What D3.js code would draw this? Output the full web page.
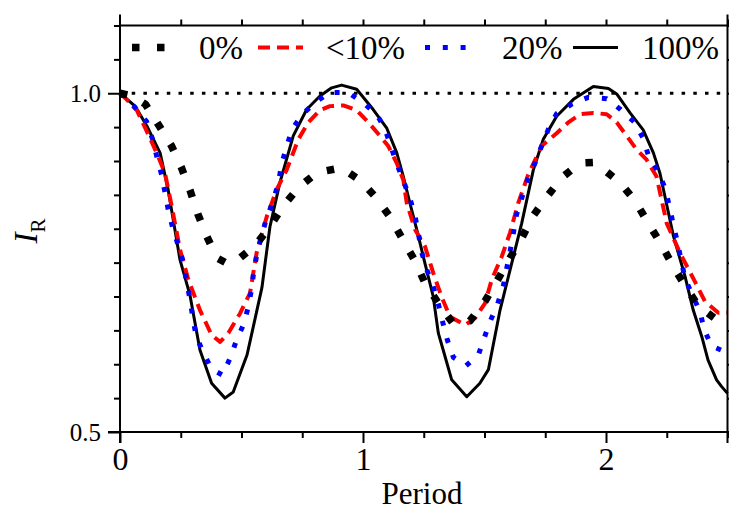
<!DOCTYPE html>
<html>
<head>
<meta charset="utf-8">
<script src="https://cdn.jsdelivr.net/npm/d3@7"></script>
<style>
    body { margin: 0; background: #fff; }
    svg text { font-family: "Liberation Serif", "DejaVu Serif", serif !important; fill: #000; }
</style>
</head>
<body>
<div id="chart"></div>
<script>
// values, [period, I_R]
var pct0 = [[0, 1.0], [0.05, 0.996], [0.104, 0.984], [0.159, 0.953], [0.211, 0.923], [0.252, 0.891], [0.288, 0.857],
    [0.32, 0.822], [0.357, 0.789], [0.398, 0.757], [0.44, 0.749], [0.477, 0.752], [0.556, 0.775], [0.617, 0.803],
    [0.672, 0.834], [0.738, 0.862], [0.812, 0.883], [0.912, 0.890], [0.99, 0.871], [1.056, 0.845], [1.114, 0.816],
    [1.162, 0.785], [1.21, 0.755], [1.255, 0.720], [1.31, 0.690], [1.369, 0.661], [1.44, 0.664], [1.502, 0.693],
    [1.553, 0.724], [1.602, 0.755], [1.653, 0.786], [1.698, 0.818], [1.756, 0.847], [1.82, 0.876], [1.893, 0.897],
    [1.95, 0.898], [1.982, 0.890], [2.058, 0.868], [2.122, 0.840], [2.174, 0.808], [2.226, 0.778], [2.274, 0.746],
    [2.325, 0.716], [2.38, 0.686], [2.462, 0.664], [2.5, 0.655]]

var pct10 = [[0, 1.0], [0.027, 0.991], [0.069, 0.975], [0.11, 0.944], [0.151, 0.912], [0.185, 0.882], [0.213, 0.833],
    [0.247, 0.769], [0.281, 0.725], [0.329, 0.680], [0.377, 0.643], [0.412, 0.633], [0.446, 0.646], [0.494, 0.675],
    [0.535, 0.705], [0.562, 0.764], [0.604, 0.818], [0.645, 0.858], [0.686, 0.887], [0.734, 0.932], [0.775, 0.957],
    [0.823, 0.975], [0.864, 0.981], [0.919, 0.982], [0.974, 0.975], [1.022, 0.957], [1.07, 0.937], [1.104, 0.922],
    [1.139, 0.897], [1.166, 0.872], [1.18, 0.838], [1.214, 0.799], [1.255, 0.774], [1.289, 0.735], [1.323, 0.700],
    [1.358, 0.670], [1.42, 0.658], [1.461, 0.668], [1.502, 0.690], [1.53, 0.725], [1.571, 0.759], [1.605, 0.794],
    [1.639, 0.838], [1.68, 0.880], [1.735, 0.922], [1.797, 0.941], [1.845, 0.957], [1.893, 0.969], [1.948, 0.971],
    [2.003, 0.969], [2.044, 0.957], [2.085, 0.937], [2.126, 0.917], [2.167, 0.902], [2.208, 0.877], [2.25, 0.808],
    [2.305, 0.764], [2.366, 0.722], [2.407, 0.693], [2.462, 0.676], [2.5, 0.676]]

var pct20 = [[0, 1.0], [0.014, 0.996], [0.062, 0.979], [0.11, 0.958], [0.134, 0.932], [0.151, 0.907], [0.171, 0.880],
    [0.185, 0.854], [0.199, 0.827], [0.217, 0.801], [0.240, 0.775], [0.263, 0.748], [0.274, 0.722], [0.288, 0.696],
    [0.299, 0.670], [0.313, 0.642], [0.343, 0.617], [0.377, 0.593], [0.422, 0.584], [0.453, 0.609], [0.477, 0.633],
    [0.510, 0.660], [0.528, 0.685], [0.542, 0.712], [0.551, 0.739], [0.565, 0.765], [0.583, 0.791], [0.604, 0.816],
    [0.631, 0.842], [0.652, 0.868], [0.665, 0.895], [0.686, 0.922], [0.71, 0.948], [0.751, 0.969], [0.802, 0.986],
    [0.861, 1.001], [0.939, 1.001], [1.001, 0.986], [1.056, 0.969], [1.091, 0.947], [1.114, 0.922], [1.139, 0.896],
    [1.166, 0.871], [1.193, 0.845], [1.214, 0.819], [1.228, 0.793], [1.241, 0.766], [1.262, 0.740], [1.289, 0.715],
    [1.31, 0.689], [1.328, 0.662], [1.347, 0.636], [1.372, 0.610], [1.424, 0.598], [1.475, 0.614], [1.498, 0.638],
    [1.523, 0.663], [1.554, 0.689], [1.577, 0.715], [1.591, 0.741], [1.605, 0.766], [1.619, 0.794], [1.632, 0.821],
    [1.653, 0.845], [1.678, 0.873], [1.708, 0.897], [1.735, 0.922], [1.763, 0.947], [1.797, 0.970], [1.859, 0.984],
    [1.927, 0.994], [2.003, 0.992], [2.06, 0.976], [2.115, 0.958], [2.151, 0.935], [2.174, 0.909], [2.215, 0.884],
    [2.243, 0.860], [2.261, 0.833], [2.277, 0.806], [2.294, 0.780], [2.309, 0.754], [2.325, 0.727], [2.355, 0.702],
    [2.387, 0.678], [2.403, 0.652], [2.434, 0.627], [2.5, 0.617]]

var pct100 = [[0, 1.0], [0.062, 0.981], [0.11, 0.952], [0.165, 0.912], [0.198, 0.858], [0.247, 0.754], [0.288, 0.702],
    [0.329, 0.621], [0.377, 0.572], [0.432, 0.550], [0.466, 0.559], [0.523, 0.614], [0.584, 0.713], [0.617, 0.803],
    [0.658, 0.868], [0.713, 0.937], [0.768, 0.976], [0.823, 0.996], [0.871, 1.008], [0.912, 1.012], [0.974, 1.006],
    [1.042, 0.976], [1.097, 0.949], [1.139, 0.912], [1.166, 0.877], [1.193, 0.838], [1.221, 0.799], [1.255, 0.749],
    [1.289, 0.700], [1.310, 0.646], [1.330, 0.621], [1.365, 0.577], [1.427, 0.552], [1.481, 0.572], [1.516, 0.592],
    [1.564, 0.680], [1.605, 0.739], [1.653, 0.808], [1.701, 0.887], [1.742, 0.932], [1.797, 0.966], [1.866, 0.991],
    [1.948, 1.010], [2.01, 1.007], [2.044, 0.999], [2.099, 0.971], [2.153, 0.946], [2.195, 0.912], [2.222, 0.882],
    [2.277, 0.790], [2.325, 0.730], [2.359, 0.680], [2.394, 0.641], [2.42, 0.606], [2.455, 0.577], [2.476, 0.567],
    [2.5, 0.557]]

var seriesNames = ["0%", "<10%", "20%", "100%"]
var refLevel = 1.0

var xMajor = [0, 1, 2]
var xMinor = [0.25, 0.5, 0.75, 1.25, 1.5, 1.75, 2.25, 2.5]
var yMajor = [0.5, 1.0]
var yMinor = [0.55, 0.6, 0.65, 0.7, 0.75, 0.8, 0.85, 0.9, 0.95, 1.05, 1.1]

// line styles, in draw order
var styles = [
    { data: pct100, name: seriesNames[3], color: "#000", width: 3, dash: null, legX: 573, legLen: 45, textX: 642 },
    { data: pct10, name: seriesNames[1], color: "#ff0000", width: 4, dash: "12,7", legX: 258, legLen: 45, textX: 326 },
    { data: pct20, name: seriesNames[2], color: "#0000ff", width: 5, dash: "5,12.8", legX: 425, legLen: 45, textX: 502 },
    { data: pct0, name: seriesNames[0], color: "#000", width: 7.5, dash: "7.5,17.5", legX: 132, legLen: 33, textX: 199 }
]

var W = 729, H = 512
var serif = '"Liberation Serif", "DejaVu Serif", serif'

var svg = d3.select("#chart")
    .append("svg")
    .attr("width", W)
    .attr("height", H)

var x = d3.scaleLinear()
    .domain([0, 2.5])
    .range([120, 727.5]);

var y = d3.scaleLinear()
    .domain([0.5, 1.1])
    .range([432, 25.5]);

// dotted reference line at I_R = 1
svg.append("line")
    .attr("x1", x(0))
    .attr("x2", x(2.5))
    .attr("y1", y(refLevel))
    .attr("y2", y(refLevel))
    .attr("stroke", "#000")
    .attr("stroke-width", 3)
    .attr("stroke-dasharray", "3.5,8.2")

// the curves
var line = d3.line()
    .x(function (d) { return x(d[0]) })
    .y(function (d) { return y(d[1]) })

styles.forEach(function (s) {
    svg.append("path")
        .datum(s.data)
        .attr("fill", "none")
        .attr("stroke", s.color)
        .attr("stroke-width", s.width)
        .attr("stroke-dasharray", s.dash)
        .attr("stroke-linejoin", "round")
        .attr("d", line)
})

// axes: minor and major ticks
function tidy(g) {
    g.attr("font-family", serif)
    g.select(".domain").remove()
    g.selectAll("line").attr("stroke", "#000").attr("stroke-width", 2)
    g.selectAll("text").style("font-family", serif)
}

svg.append("g")
    .attr("transform", "translate(0," + y(0.5) + ")")
    .call(d3.axisBottom(x).tickValues(xMinor).tickSize(6).tickFormat(""))
    .call(tidy)

svg.append("g")
    .attr("transform", "translate(0," + y(0.5) + ")")
    .call(d3.axisBottom(x).tickValues(xMajor).tickSize(11).tickPadding(4).tickFormat(d3.format("d")))
    .call(tidy)
    .selectAll("text")
    .style("font-size", "32px")

svg.append("g")
    .attr("transform", "translate(0," + y(1.1) + ")")
    .call(d3.axisTop(x).tickValues(xMinor.concat([1, 2])).tickSize(6).tickFormat(""))
    .call(tidy)

svg.append("g")
    .attr("transform", "translate(" + x(0) + ",0)")
    .call(d3.axisLeft(y).tickValues(yMinor).tickSize(6).tickFormat(""))
    .call(tidy)

svg.append("g")
    .attr("transform", "translate(" + x(0) + ",0)")
    .call(d3.axisLeft(y).tickValues(yMajor).tickSize(12).tickPadding(7).tickFormat(d3.format(".1f")))
    .call(tidy)
    .selectAll("text")
    .style("font-size", "25px")

svg.append("g")
    .attr("transform", "translate(" + x(2.5) + ",0)")
    .call(d3.axisRight(y).tickValues(yMinor.concat(yMajor)).tickSize(6).tickFormat(""))
    .call(tidy)

// frame lines (the vertical ones run past the corners)
var frame = [
    [x(0), y(1.1) - 11, x(0), y(0.5) + 11],
    [x(2.5), y(1.1) - 11, x(2.5), y(0.5) + 11],
    [x(0) - 12, y(0.5), x(2.5) + 2, y(0.5)],
    [x(0), y(1.1), x(2.5), y(1.1)]
]
svg.selectAll("line.frame")
    .data(frame)
    .enter()
    .append("line")
    .attr("class", "frame")
    .attr("x1", function (d) { return d[0] })
    .attr("y1", function (d) { return d[1] })
    .attr("x2", function (d) { return d[2] })
    .attr("y2", function (d) { return d[3] })
    .attr("stroke", "#000")
    .attr("stroke-width", 2)

// axis titles
svg.append("text")
    .text("Period")
    .attr("x", 422)
    .attr("y", 504)
    .attr("text-anchor", "middle")
    .style("font-family", serif)
    .style("font-size", "31px")

var ylab = svg.append("text")
    .attr("transform", "translate(37,231) rotate(-90)")
    .attr("text-anchor", "middle")
    .style("font-family", serif)
    .style("font-size", "33px")
ylab.append("tspan").text("I").style("font-style", "italic")
ylab.append("tspan").text("R").attr("dy", 8).style("font-size", "21px")

// legend
var legY = 47.5
styles.forEach(function (s) {
    svg.append("line")
        .attr("x1", s.legX)
        .attr("x2", s.legX + s.legLen)
        .attr("y1", legY)
        .attr("y2", legY)
        .attr("stroke", s.color)
        .attr("stroke-width", s.width)
        .attr("stroke-dasharray", s.dash)
    svg.append("text")
        .text(s.name)
        .attr("x", s.textX)
        .attr("y", 59)
        .style("font-family", serif)
        .style("font-size", "33px")
})
</script>
</body>
</html>
